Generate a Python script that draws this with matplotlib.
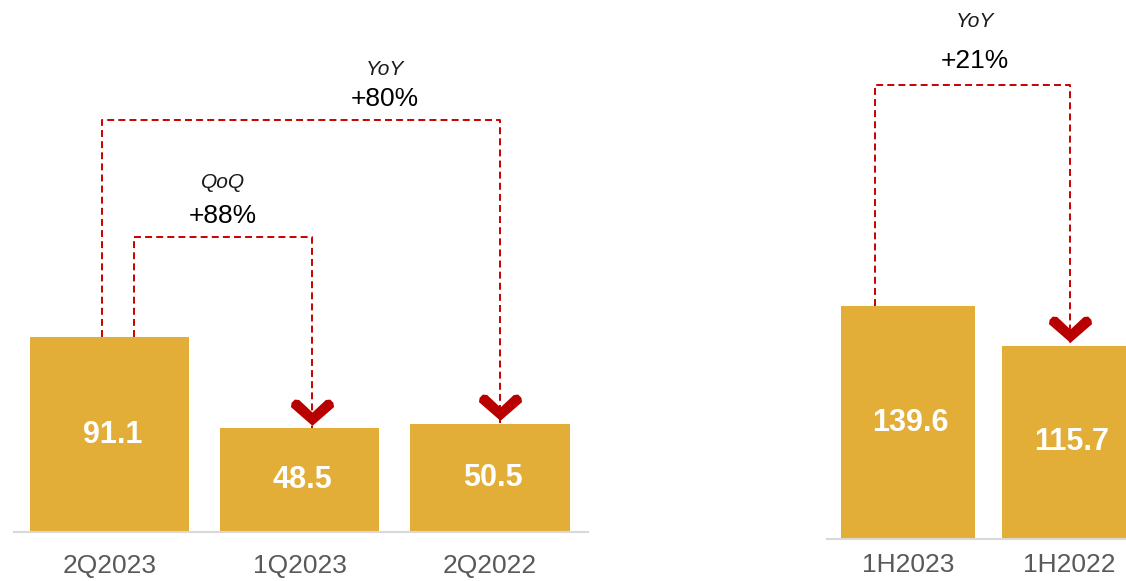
import matplotlib
matplotlib.use("Agg")
import matplotlib.pyplot as plt
from matplotlib.path import Path
from matplotlib.transforms import offset_copy

plt.rcParams['font.family'] = ['Liberation Sans', 'DejaVu Sans']
plt.rcParams['lines.scale_dashes'] = False

# Data
quarters = ['2Q2023', '1Q2023', '2Q2022']
quarter_values = [91.1, 48.5, 50.5]
halves = ['1H2023', '1H2022']
half_values = [139.6, 115.7]

GOLD = '#E3AE38'
RED = '#C80000'
DARKRED = '#B80000'
GREY = '#595959'

W, H = 1126, 581
fig = plt.figure(figsize=(W / 100, H / 100), dpi=100)

# chevron marker (down pointing tick)
CHEVRON = Path([(0.0, -0.62), (-1.0, 0.25), (-0.97, 0.45), (-0.82, 0.60),
                (-0.62, 0.58), (0.0, 0.0), (0.62, 0.58), (0.82, 0.60),
                (0.97, 0.45), (1.0, 0.25), (0.0, -0.62)],
               [Path.MOVETO] + [Path.LINETO] * 9 + [Path.CLOSEPOLY])


def make_panel(left_px, right_px, base_px, first_px, step_px, px_per_unit):
    ax = fig.add_axes([left_px / W, (H - base_px) / H,
                       (right_px - left_px) / W, base_px / H])
    ax.set_xlim((left_px - first_px) / step_px, (right_px - first_px) / step_px)
    ax.set_ylim(0, base_px / px_per_unit)
    for s in ['top', 'left', 'right']:
        ax.spines[s].set_visible(False)
    ax.spines['bottom'].set_color('#D9D9D9')
    ax.spines['bottom'].set_linewidth(1.5)
    ax.set_yticks([])
    return ax


def draw_bars(ax, labels, values, width, pad=16):
    ax.bar(range(len(values)), values, width=width, color=GOLD, zorder=2)
    ax.set_xticks(range(len(labels)), labels)
    ax.tick_params(axis='x', length=0, pad=pad, labelsize=19, labelcolor=GREY)
    for i, v in enumerate(values):
        ax.text(i + 0.015, v / 2, f'{v}', ha='center', va='center', color='white',
                fontsize=22, fontweight='bold', zorder=3)


def draw_bracket(ax, values, i0, dx0, i1, dx1, level, tag, pct, text_x,
                 pct_gap=15, tag_gap=37):
    x0, x1 = i0 + dx0, i1 + dx1
    ax.plot([x0, x0, x1, x1], [values[i0], level, level, values[i1]],
            color=RED, lw=1.4, dashes=(5, 3), zorder=1)
    up = offset_copy(ax.transData, fig=fig, y=12, units='points')
    ax.plot([x1], [values[i1]], marker=CHEVRON, ms=31, color=DARKRED,
            mec=DARKRED, mew=0, transform=up, zorder=4, clip_on=False)
    pct_tr = offset_copy(ax.transData, fig=fig, y=pct_gap, units='points')
    tag_tr = offset_copy(ax.transData, fig=fig, y=tag_gap, units='points')
    ax.text(text_x, level, pct, transform=pct_tr, ha='center', va='center',
            fontsize=19, color='black')
    ax.text(text_x, level, tag, transform=tag_tr, ha='center', va='center',
            fontsize=15, style='italic', color='#1A1A1A')


# quarterly panel
ax1 = make_panel(14, 588, 532, 109.5, 190.25, 2.1405)
draw_bars(ax1, quarters, quarter_values, 0.836)
draw_bracket(ax1, quarter_values, 0, -0.039, 2, 0.053, 192.5, 'YoY', '+80%', 1.448,
             tag_gap=36)
draw_bracket(ax1, quarter_values, 0, 0.129, 1, 0.066, 137.8, 'QoQ', '+88%', 0.597,
             tag_gap=39)

# half-year panel
ax2 = make_panel(827, 1140, 539, 908, 161, 1.669)
draw_bars(ax2, halves, half_values, 0.832, pad=10)
draw_bracket(ax2, half_values, 0, -0.205, 1, 0.006, 272, 'YoY', '+21%', 0.416,
             pct_gap=17, tag_gap=46)

fig.savefig('out.png', dpi=100)
